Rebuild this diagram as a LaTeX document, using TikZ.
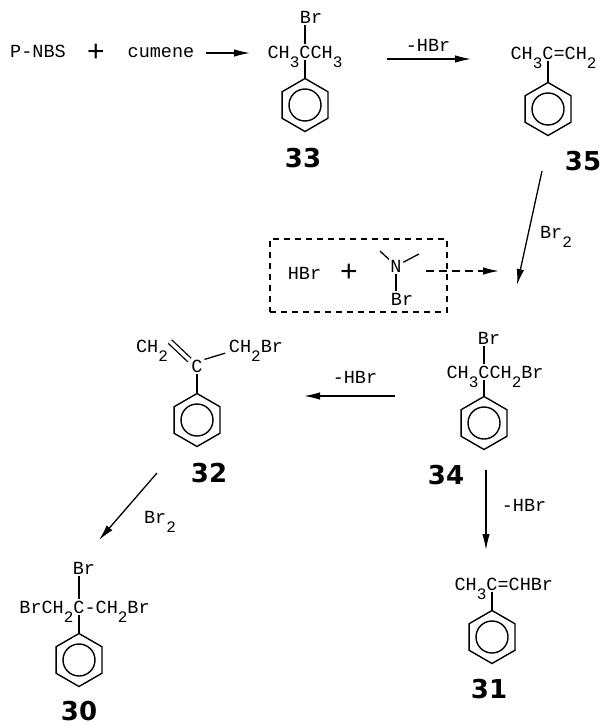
\documentclass[tikz,border=0pt]{standalone}
\usepackage{fontspec}
\setmonofont{Liberation Mono}
\newfontfamily\numfont{Liberation Sans}
\newfontfamily\labelfont{DejaVu Sans}
\usetikzlibrary{positioning}
\usetikzlibrary{arrows.meta}
\usetikzlibrary{shapes.geometric}
\newcommand{\lowr}[1]{\raisebox{-9pt}{\fontsize{16}{18}\selectfont #1}}
\tikzset{
    atom/.style={font=\ttfamily\fontsize{18.5}{20}\selectfont, inner sep=0pt, outer sep=0pt, text height=12pt, text depth=0pt},
    plussign/.style={font=\numfont\fontsize{30}{32}\selectfont, inner sep=0pt},
    compound/.style={font=\labelfont\bfseries\fontsize{26}{28}\selectfont, inner sep=0pt, text height=19pt, text depth=0pt},
    ring/.style={draw, regular polygon, regular polygon sides=6, regular polygon rotate=30, minimum size=53pt, inner sep=0pt, outer sep=0pt, line width=1.4pt,
        path picture={\draw[line width=1.4pt] (path picture bounding box.center) circle (16pt);}},
    bond/.style={line width=1.3pt, shorten <=2pt},
    rarrow/.style={line width=1.3pt, -{Latex[length=16pt,width=7.5pt]}},
    dashbox/.style={draw, dashed, dash pattern=on 6pt off 5pt, line width=1.3pt, inner sep=0pt, minimum width=177pt, minimum height=73pt}
}
\begin{document}
\begin{tikzpicture}[x=1pt,y=-1pt]
    \useasboundingbox (0,0) rectangle (600,726);

    % first line
    \node (pnbs) [atom] at (38,51) {P-NBS};
    \node (plusa) [plussign] at (96,53) {+};
    \node (cumene) [atom] at (161,51) {cumene};
    \coordinate (a1s) at (206,53);
    \coordinate (a1e) at (250,53);
    \draw (a1s) [rarrow]-- (a1e);

    \node (c33) [atom] at (305,52) {C};
    \node (l33) [atom,left=0pt of c33] {CH\lowr{3}};
    \node (r33) [atom,right=0pt of c33] {CH\lowr{3}};
    \node (br33) [atom] at (311,17) {Br};
    \node (ring33) [ring] at (305,105) {};
    \draw (c33) [bond,shorten >=2pt]-- (c33 |- br33.south);
    \draw (c33) [bond]-- (ring33.corner 1);
    \node (n33) [compound] at (303,158) {33};

    \coordinate (a2s) at (387,59);
    \coordinate (a2e) at (471,59);
    \draw (a2s) [rarrow]-- (a2e);
    \node (t2) [atom] at (428,45) {-HBr};

    \node (c35) [atom] at (548,53) {C};
    \node (l35) [atom,left=0pt of c35] {CH\lowr{3}};
    \node (r35) [atom,right=0pt of c35] {=CH\lowr{2}};
    \node (ring35) [ring] at (548,109) {};
    \draw (c35) [bond]-- (ring35.corner 1);
    \node (n35) [compound] at (583,161) {35};

    \coordinate (a3s) at (542,171);
    \coordinate (a3e) at (517,285);
    \draw (a3s) [rarrow]-- (a3e);
    \node (t3) [atom] at (556,232) {Br\lowr{2}};

    % dashed box
    \node (hbrbox) [dashbox] at (358.5,275.5) {};
    \node (hbr) [atom] at (304.5,273) {HBr};
    \node (plusb) [plussign] at (349,273) {+};
    \node (nbr) [atom] at (396,266) {N};
    \node (brn) [atom] at (402,299) {Br};
    \coordinate (me1) at (380,251);
    \coordinate (me2) at (419,254);
    \draw (nbr) [bond]-- (me1);
    \draw (nbr) [bond]-- (me2);
    \draw (nbr) [bond,shorten >=2pt]-- (nbr |- brn.north);
    \coordinate (a4s) at (426,271);
    \coordinate (a4e) at (499,271);
    \draw (a4s) [rarrow,dashed,dash pattern=on 8pt off 5pt]-- (a4e);

    \node (c34) [atom] at (484,372) {C};
    \node (l34) [atom,left=0pt of c34] {CH\lowr{3}};
    \node (r34) [atom,right=0pt of c34] {CH\lowr{2}Br};
    \node (br34) [atom] at (489,338) {Br};
    \node (ring34) [ring] at (484,423) {};
    \draw (c34) [bond,shorten >=2pt]-- (c34 |- br34.south);
    \draw (c34) [bond]-- (ring34.corner 1);
    \node (n34) [compound] at (446,475) {34};

    \coordinate (a5s) at (395,396);
    \coordinate (a5e) at (304,396);
    \draw (a5s) [rarrow]-- (a5e);
    \node (t5) [atom] at (355,377) {-HBr};

    \node (c32) [atom] at (197,366) {C};
    \node (l32) [atom] at (152,346) {CH\lowr{2}};
    \node (r32) [atom] at (256,346) {CH\lowr{2}Br};
    \node (ring32) [ring] at (197,420) {};
    \draw ([xshift=2pt,yshift=4.5pt]l32.east) [line width=1.3pt,double,double distance=3.5pt]-- ([xshift=-2pt]c32.north west);
    \draw (c32.north east) [bond,shorten >=4pt]-- (r32.south west);
    \draw (c32) [bond]-- (ring32.corner 1);
    \node (n32) [compound] at (209,473) {32};

    \coordinate (a6s) at (157,473);
    \coordinate (a6e) at (99,540);
    \draw (a6s) [rarrow]-- (a6e);
    \node (t6) [atom] at (160,517) {Br\lowr{2}};

    \node (c30) [atom] at (79,607) {C};
    \node (l30) [atom,left=0pt of c30] {BrCH\lowr{2}};
    \node (r30) [atom,right=0pt of c30] {-CH\lowr{2}Br};
    \node (br30) [atom] at (84,568) {Br};
    \node (ring30) [ring] at (79,660) {};
    \draw (c30) [bond,shorten >=2pt]-- (c30 |- br30.south);
    \draw (c30) [bond]-- (ring30.corner 1);
    \node (n30) [compound] at (79,711) {30};

    \coordinate (a7s) at (486,470);
    \coordinate (a7e) at (486,550);
    \draw (a7s) [rarrow]-- (a7e);
    \node (t7) [atom] at (524,505) {-HBr};

    \node (c31) [atom] at (492,584) {C};
    \node (l31) [atom,left=0pt of c31] {CH\lowr{3}};
    \node (r31) [atom,right=0pt of c31] {=CHBr};
    \node (ring31) [ring] at (492,637) {};
    \draw (c31) [bond]-- (ring31.corner 1);
    \node (n31) [compound] at (489,689) {31};
\end{tikzpicture}
\end{document}
